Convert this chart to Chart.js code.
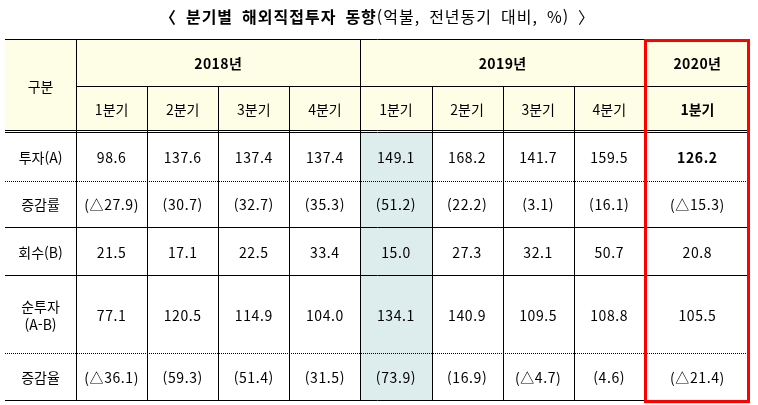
<!DOCTYPE html>
<html lang="ko">
<head>
<meta charset="utf-8">
<title>분기별 해외직접투자 동향</title>
<script src="https://cdn.jsdelivr.net/npm/chart.js@4.4.1/dist/chart.umd.min.js"></script>
<style>
  html, body { margin: 0; padding: 0; background: #fff; }
  canvas { display: block; }
</style>
</head>
<body>
<canvas id="tabela" width="758" height="405"></canvas>
<script>
// dados (억불, 전년동기 대비 %)
const titleBold = '〈\u2002분기별\u2002해외직접투자\u2002동향';
const titleRest = '(억불,\u2002전년동기\u2002대비,\u2002%)\u2002〉';
const headerLabel = '구분';
const years = ['2018년', '2019년', '2020년'];
const yearSpans = [4, 4, 1];
const quarters = ['1분기', '2분기', '3분기', '4분기', '1분기', '2분기', '3분기', '4분기', '1분기'];
const rowLabels = ['투자(A)', '증감률', '회수(B)', '순투자\n(A-B)', '증감율'];
const investment = [98.6, 137.6, 137.4, 137.4, 149.1, 168.2, 141.7, 159.5, 126.2];
const investGrowth = [-27.9, 30.7, 32.7, 35.3, 51.2, 22.2, 3.1, 16.1, -15.3];
const recovery = [21.5, 17.1, 22.5, 33.4, 15.0, 27.3, 32.1, 50.7, 20.8];
const netInvestment = [77.1, 120.5, 114.9, 104.0, 134.1, 140.9, 109.5, 108.8, 105.5];
const netGrowth = [-36.1, 59.3, 51.4, 31.5, 73.9, 16.9, -4.7, 4.6, -21.4];

const rows = [investment, investGrowth, recovery, netInvestment, netGrowth];
const rateRows = [false, true, false, false, true];

// layout da tabela em unidades de escala (coluna de trimestre = 1)
const colEdges = [0, 1, 2, 3, 4, 5, 6, 7, 8, 9, 10.48];
const rowEdges = [0, 1, 2, 3.05, 4.05, 5.08, 6.76, 7.76];
const rowLines = ['dot', 'solid', 'solid', 'dot', 'solid']; // linha abaixo de cada linha de dados
const highlightCol = 5; // 2019년 1분기
const lastCol = colEdges.length - 2;

const FONT = "'Noto Sans CJK KR', 'Noto Sans', sans-serif";

function formatValue(v, rate) {
    const s = Math.abs(v).toFixed(1);
    if (!rate) return s;
    return v < 0 ? '(△' + s + ')' : '(' + s + ')';
}

const tablePlugin = {
    id: 'tabela',
    afterDraw(chart) {
        const ctx = chart.ctx;
        const x = chart.scales.x;
        const y = chart.scales.y;
        const px = v => Math.round(x.getPixelForValue(v));
        const py = v => Math.round(y.getPixelForValue(v));
        const xL = px(colEdges[0]);
        const xR = px(colEdges[colEdges.length - 1]);
        const yT = py(rowEdges[0]);
        const yB = py(rowEdges[rowEdges.length - 1]);

        ctx.save();

        // fundos
        ctx.fillStyle = '#fefee6';
        ctx.fillRect(xL, yT, xR - xL, py(rowEdges[2]) - yT);
        ctx.fillStyle = '#ddeced';
        ctx.fillRect(px(colEdges[highlightCol]), py(rowEdges[2]), px(colEdges[highlightCol + 1]) - px(colEdges[highlightCol]), yB - py(rowEdges[2]));

        // linhas
        const hline = (x0, x1, yy, dash) => {
            ctx.beginPath();
            ctx.setLineDash(dash ? [1, 1] : []);
            ctx.moveTo(x0, yy + 0.5);
            ctx.lineTo(x1, yy + 0.5);
            ctx.stroke();
        };
        const vline = (xx, y0, y1) => {
            ctx.beginPath();
            ctx.setLineDash([]);
            ctx.moveTo(xx + 0.5, y0);
            ctx.lineTo(xx + 0.5, y1);
            ctx.stroke();
        };
        ctx.strokeStyle = '#000';
        ctx.lineWidth = 1;
        hline(xL, xR, yT, false);
        hline(px(colEdges[1]), xR, py(rowEdges[1]), false);
        hline(xL, xR, py(rowEdges[2]) - 2, false);
        hline(xL, xR, py(rowEdges[2]), false);
        rowLines.forEach((kind, i) => {
            hline(xL, xR, py(rowEdges[i + 3]), kind === 'dot');
        });
        // verticais
        let c = 1;
        yearSpans.forEach(span => {
            vline(px(colEdges[c]), yT, yB);
            for (let k = 1; k < span; k++) {
                vline(px(colEdges[c + k]), py(rowEdges[1]), yB);
            }
            c += span;
        });

        // textos
        ctx.fillStyle = '#000';
        ctx.textAlign = 'center';
        ctx.textBaseline = 'middle';
        const cellText = (txt, c0, c1, r0, r1, bold, spacing) => {
            ctx.font = (bold ? 'bold ' : '') + '14px ' + FONT;
            ctx.letterSpacing = spacing || '0px';
            const cx = (x.getPixelForValue(colEdges[c0]) + x.getPixelForValue(colEdges[c1])) / 2;
            const cy = (y.getPixelForValue(rowEdges[r0]) + y.getPixelForValue(rowEdges[r1])) / 2;
            const lines = txt.split('\n');
            lines.forEach((ln, i) => {
                ctx.fillText(ln, cx, cy + (i - (lines.length - 1) / 2) * 18 + 1);
            });
        };
        cellText(headerLabel, 0, 1, 0, 2, false);
        c = 1;
        years.forEach((yr, i) => {
            cellText(yr, c, c + yearSpans[i], 0, 1, true, '0.4px');
            c += yearSpans[i];
        });
        quarters.forEach((q, i) => {
            cellText(q, i + 1, i + 2, 1, 2, i + 1 === lastCol);
        });
        rowLabels.forEach((lab, r) => {
            cellText(lab, 0, 1, r + 2, r + 3, false);
            rows[r].forEach((v, i) => {
                const bold = r === 0 && i + 1 === lastCol;
                cellText(formatValue(v, rateRows[r]), i + 1, i + 2, r + 2, r + 3, bold, '0.6px');
            });
        });

        // título
        ctx.textAlign = 'left';
        ctx.letterSpacing = '1px';
        ctx.font = 'bold 16px ' + FONT;
        const w1 = ctx.measureText(titleBold).width;
        ctx.font = '16px ' + FONT;
        const w2 = ctx.measureText(titleRest).width;
        const tx = (xL + xR) / 2 - (w1 + w2) / 2;
        ctx.font = 'bold 16px ' + FONT;
        ctx.fillText(titleBold, tx, 17);
        ctx.font = '16px ' + FONT;
        ctx.fillText(titleRest, tx + w1, 17);
        ctx.letterSpacing = '0px';

        // destaque 2020년
        const rL = px(colEdges[lastCol]);
        ctx.strokeStyle = '#ff0000';
        ctx.lineWidth = 3;
        ctx.setLineDash([]);
        ctx.strokeRect(rL + 0.5, yT + 1.5, (xR - 1.5) - (rL + 0.5), yB - yT);

        ctx.restore();
    }
};

new Chart(document.getElementById('tabela'), {
    type: 'scatter',
    data: { datasets: [] },
    options: {
        responsive: false,
        animation: false,
        layout: { padding: { left: 5, right: 8, top: 39, bottom: 5 } },
        plugins: { legend: { display: false }, tooltip: { enabled: false } },
        scales: {
            x: { type: 'linear', min: colEdges[0], max: colEdges[colEdges.length - 1], display: false },
            y: { type: 'linear', min: rowEdges[0], max: rowEdges[rowEdges.length - 1], reverse: true, display: false }
        }
    },
    plugins: [tablePlugin]
});
</script>
</body>
</html>
